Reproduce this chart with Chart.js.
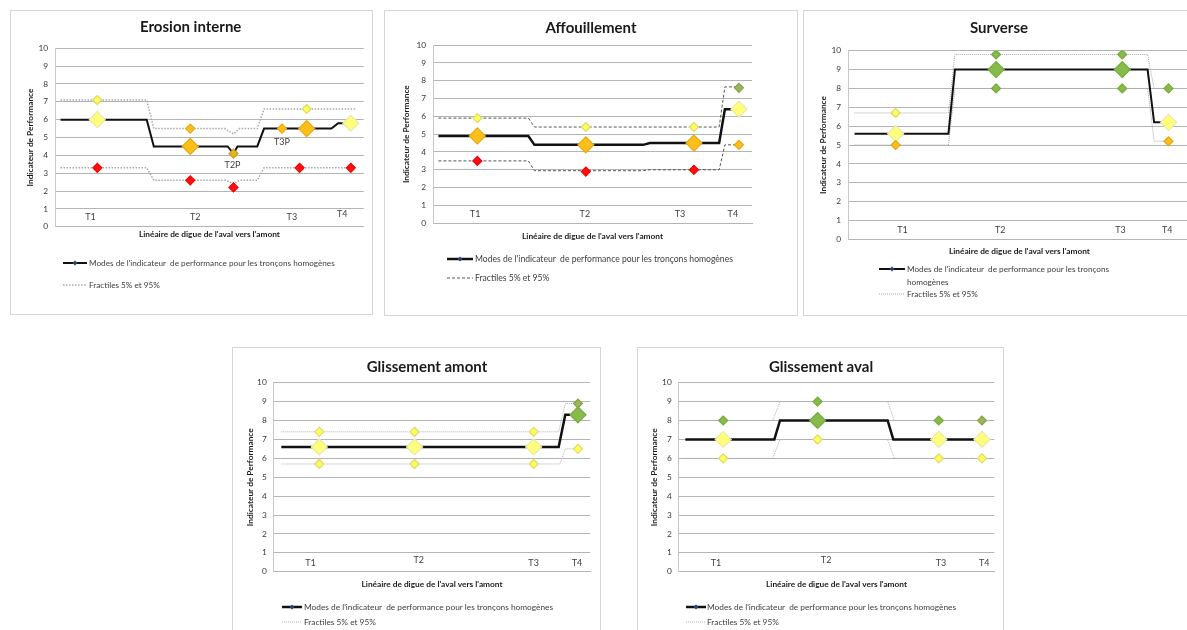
<!DOCTYPE html>
<html><head><meta charset="utf-8">
<script src="https://cdn.jsdelivr.net/npm/chart.js@4.4.1/dist/chart.umd.min.js"></script>
<style>
html,body{margin:0;padding:0;background:#fff;}
body{width:1187px;height:630px;overflow:hidden;position:relative;font-family:Lato,"Open Sans",sans-serif;}
.box{position:absolute;border:1.5px solid #d6d6d6;box-sizing:border-box;}
.chart{position:absolute;}
.lg{position:absolute;color:#404040;white-space:pre;line-height:12px;}
svg{position:absolute;overflow:visible;}
</style></head><body>
<script>
// ---------- DATA (position along the dike: 0-100, value: performance indicator 0-10) ----------
// Erosion interne
const EI_mode = [[1.8,6.0],[29.7,6.0],[32.0,4.5],[55.9,4.5],[57.8,4.1],[59.1,4.5],[65.5,4.5],[67.7,5.5],[89.5,5.5],[91.7,5.8],[96.8,5.8]];
const EI_q95  = [[1.8,7.1],[29.7,7.1],[32.0,5.5],[55.0,5.5],[57.8,5.2],[59.7,5.5],[65.5,5.5],[67.7,6.6],[97.4,6.6]];
const EI_q05  = [[1.8,3.3],[29.7,3.3],[32.0,2.6],[55.3,2.6],[57.8,2.4],[59.7,2.6],[65.5,2.6],[67.7,3.3],[97.4,3.3]];
const EI_points = [[13.7,6.0,'M','pale'],[13.7,7.1,'f','yellow'],[13.7,3.3,'f','red'],
  [43.8,4.5,'M','orange'],[43.8,5.5,'f','orange'],[43.8,2.6,'f','red'],
  [57.8,4.1,'m','gold'],[57.8,2.2,'f','red'],[73.5,5.5,'m','orange'],
  [81.5,5.5,'M','orange'],[81.5,6.6,'f','yellow'],[79.2,3.3,'f','red'],
  [95.8,5.8,'M','pale'],[95.8,3.3,'f','red']];
const EI_labels = [['T1',11.5,0.55],['T2',45.4,0.55],['T3',76.7,0.55],['T4',93.0,0.7],['T2P',57.5,3.45],['T3P',73.5,4.72]];

// Affouillement
const AF_mode = [[1.7,4.9],[29.9,4.9],[31.8,4.4],[65.9,4.4],[68.0,4.5],[89.7,4.5],[91.5,6.4],[95.7,6.4]];
const AF_q95  = [[1.7,5.9],[29.9,5.9],[31.8,5.4],[89.7,5.4],[91.5,7.65],[95.7,7.65]];
const AF_q05  = [[1.7,3.5],[29.9,3.5],[31.8,2.95],[65.9,2.95],[68.0,3.0],[89.7,3.0],[91.5,4.4],[95.7,4.4]];
const AF_points = [[13.9,4.9,'M','orange'],[13.9,5.9,'f','yellow'],[13.9,3.5,'f','red'],
  [47.9,4.4,'M','orange'],[47.9,5.4,'f','yellow'],[47.9,2.9,'f','red'],
  [81.8,4.5,'M','orange'],[81.8,5.4,'f','yellow'],[81.8,3.0,'f','red'],
  [95.9,6.4,'M','pale'],[95.9,7.6,'f','olive'],[95.9,4.4,'f','orange']];
const AF_labels = [['T1',13.2,0.52],['T2',47.6,0.52],['T3',77.4,0.52],['T4',94.0,0.52]];

// Surverse
const SV_mode = [[1.9,5.6],[29.3,5.6],[31.2,9.0],[87.4,9.0],[89.3,6.2],[91.6,6.2]];
const SV_q95  = [[1.9,6.7],[29.3,6.7],[31.2,9.8],[87.4,9.8],[89.3,8.0],[94.0,8.0]];
const SV_q05  = [[1.9,5.0],[29.3,5.0],[31.2,8.0],[87.4,8.0],[89.3,5.2],[92.5,5.2]];
const SV_points = [[13.9,5.6,'M','pale'],[13.9,6.7,'f','yellow'],[13.9,5.0,'f','orange'],
  [43.2,9.0,'M','green'],[43.2,9.8,'f','green'],[43.2,8.0,'f','green'],
  [80.0,9.0,'M','green'],[80.0,9.8,'f','green'],[80.0,8.0,'f','green'],
  [93.5,6.2,'M','pale'],[93.5,8.0,'f','green'],[93.5,5.2,'f','orange']];
const SV_labels = [['T1',15.9,0.5],['T2',44.4,0.5],['T3',79.5,0.5],['T4',93.1,0.5]];

// Glissement amont
const GA_mode = [[2.4,6.6],[90.0,6.6],[92.1,8.3],[93.7,8.3]];
const GA_q95  = [[2.4,7.4],[90.0,7.4],[92.1,8.9],[95.3,8.9]];
const GA_q05  = [[2.4,5.7],[90.4,5.7],[92.1,6.5],[95.3,6.5]];
const GA_points = [[14.4,6.6,'M','pale'],[14.4,7.4,'f','yellow'],[14.4,5.7,'f','yellow'],
  [44.5,6.6,'M','pale'],[44.5,7.4,'f','yellow'],[44.5,5.7,'f','yellow'],
  [82.1,6.6,'M','pale'],[82.1,7.4,'f','yellow'],[82.1,5.7,'f','yellow'],
  [96.1,8.3,'M','green'],[96.1,8.9,'f','olive'],[96.1,6.5,'f','yellow']];
const GA_labels = [['T1',11.6,0.44],['T2',45.8,0.62],['T3',82.1,0.44],['T4',95.8,0.46]];

// Glissement aval
const GV_mode = [[2.1,7],[30.3,7],[32.1,8],[66.2,8],[68.0,7],[93.7,7]];
const GV_q95  = [[2.1,8],[29.8,8],[32.1,9],[66.2,9],[68.3,8],[93.7,8]];
const GV_q05  = [[2.1,6],[29.8,6],[32.1,7],[66.2,7],[68.3,6],[93.7,6]];
const GV_points = [[14.1,7,'M','pale'],[14.1,8,'f','green'],[14.1,6,'f','yellow'],
  [44.0,8,'M','green'],[44.0,9,'f','green'],[44.0,7,'f','yellow'],
  [82.4,7,'M','pale'],[82.4,8,'f','green'],[82.4,6,'f','yellow'],
  [96.1,7,'M','pale'],[96.1,8,'f','olive'],[96.1,6,'f','yellow']];
const GV_labels = [['T1',11.8,0.44],['T2',46.7,0.62],['T3',83.1,0.44],['T4',96.8,0.44]];

const LEGEND_MODE = "Modes de l'indicateur  de performance pour les tronçons homogènes";
const LEGEND_FRAC = "Fractiles 5% et 95%";
const Y_TITLE = "Indicateur de Performance";
const X_TITLE = "Linéaire de digue de l'aval vers l'amont";

// ---------- STYLES ----------
const FILL = {pale:'#FFFF7A', yellow:'#FFFF55', orange:'#FFBF1A', gold:'#E8B424', red:'#FF1010', green:'#86BB4A', olive:'#9AB55A'};
const EDGE = {pale:'#E8E8B0', yellow:'#DADA70', orange:'#E6A810', gold:'#C89A20', red:'#F00000', green:'#78A840', olive:'#8AA24E'};
const FONT = 'Lato, "Open Sans", sans-serif';
Chart.defaults.font.family = FONT;

const panels = [
  {title:'Erosion interne', mode:EI_mode, q95:EI_q95, q05:EI_q05, pts:EI_points, labels:EI_labels,
   box:{x:10,y:10,W:363,H:305}, L:{plotLeft:45,plotRight:358,plotTop:38.3,plotBottom:216.7,titleCx:180.7,titleCy:17,yTitleCx:20.7,xTitleCy:224},
   frac:{color:'#a8a8a8',width:1.5,dash:[1.5,1.5]}, modeW:2,
   legend:{size:8.2,r1:253,r2:275,sx1:53,sx2:77,tx:79}},
  {title:'Affouillement', mode:AF_mode, q95:AF_q95, q05:AF_q05, pts:AF_points, labels:AF_labels,
   box:{x:384,y:10,W:414,H:306}, L:{plotLeft:49,plotRight:368,plotTop:35,plotBottom:213.3,titleCx:207,titleCy:18,yTitleCx:22.7,xTitleCy:226},
   frac:{color:'#555555',width:1,dash:[3,2]}, modeW:2.5,
   legend:{size:8.6,r1:249,r2:268,sx1:63,sx2:89,tx:91}},
  {title:'Surverse', mode:SV_mode, q95:SV_q95, q05:SV_q05, pts:SV_points, labels:SV_labels,
   box:{x:803,y:10,W:397,H:306}, L:{plotLeft:45,plotRight:392,plotTop:40.7,plotBottom:229.3,titleCx:196,titleCy:18,yTitleCx:20,xTitleCy:241.7},
   frac:{color:'#a8a8a8',width:1,dash:[1,1]}, modeW:2, wrap:true,
   legend:{size:8.2,r1:259.3,r2:284,sx1:76,sx2:102,tx:104}},
  {title:'Glissement amont', mode:GA_mode, q95:GA_q95, q05:GA_q05, pts:GA_points, labels:GA_labels,
   box:{x:232,y:347,W:369,H:290}, L:{plotLeft:41.7,plotRight:358.3,plotTop:35.7,plotBottom:224.7,titleCx:195,titleCy:19.7,yTitleCx:18.3,xTitleCy:237.3},
   frac:{color:'#b0b0b0',width:1,dash:[1,1]}, modeW:2.5,
   legend:{size:8.3,r1:259.7,r2:274.7,sx1:50,sx2:70,tx:72}},
  {title:'Glissement aval', mode:GV_mode, q95:GV_q95, q05:GV_q05, pts:GV_points, labels:GV_labels,
   box:{x:637,y:347,W:367,H:290}, L:{plotLeft:41.7,plotRight:357.3,plotTop:35.7,plotBottom:224.7,titleCx:184,titleCy:19.7,yTitleCx:17.3,xTitleCy:237.3},
   frac:{color:'#b0b0b0',width:1,dash:[1,1]}, modeW:2.5,
   legend:{size:8.3,r1:259.7,r2:274.7,sx1:49,sx2:69,tx:70}}
];

const tLabelPlugin = {
  id: 'tLabels',
  afterDatasetsDraw(chart, args, opts) {
    const {ctx, scales:{x, y}} = chart;
    ctx.save();
    ctx.font = '9px ' + FONT;
    ctx.fillStyle = '#404040';
    ctx.textAlign = 'center';
    ctx.textBaseline = 'middle';
    for (const [t, px, py] of opts.labels) ctx.fillText(t, x.getPixelForValue(px), y.getPixelForValue(py));
    ctx.restore();
  }
};

const toXY = arr => arr.map(([x, y]) => ({x, y}));

panels.forEach(p => {
  const b = p.box, L = p.L;
  const box = document.createElement('div');
  box.className = 'box';
  Object.assign(box.style, {left:b.x+'px', top:b.y+'px', width:b.W+'px', height:b.H+'px'});
  document.body.appendChild(box);

  const lh = 1.2, tS = 15, aS = 8.3;
  // layout: title is centred between padL and (canvas width - padR); a blank right axis fills any gap.
  const padL = Math.min(L.plotLeft - 25, 2 * L.titleCx - L.plotRight);
  const R = 2 * L.titleCx - padL;
  const w2 = Math.max(0, R - L.plotRight);
  const Wc = Math.max(b.W, R + 2);
  const padR = Wc - R;
  const yWidth = L.plotLeft - padL;
  const yTitlePad = L.yTitleCx - aS * lh / 2 - padL;
  const titlePT = L.titleCy - tS * lh / 2;
  const titlePB = L.plotTop - titlePT - tS * lh;
  const xH = L.xTitleCy - L.plotBottom + aS * lh / 2;
  const padB = b.H - L.plotBottom - xH;

  const wrap = document.createElement('div');
  wrap.className = 'chart';
  Object.assign(wrap.style, {left:b.x+'px', top:b.y+'px', width:Wc+'px', height:b.H+'px'});
  const cv = document.createElement('canvas');
  wrap.appendChild(cv);
  document.body.appendChild(wrap);

  const lineDs = (data, color, width, dash) => ({type:'scatter', data: toXY(data), showLine:true, borderColor:color,
     borderWidth:width, borderDash:dash, pointRadius:0, fill:false, tension:0});

  new Chart(cv, {
    type: 'scatter',
    data: { datasets: [
      {data: p.pts.map(([x, y, kind, cls]) => ({x, y, kind, cls})), pointStyle:'rectRot',
       pointRadius: c => (c.raw && c.raw.kind === 'M') ? 8 : 4.5,
       pointBackgroundColor: c => FILL[c.raw ? c.raw.cls : 'pale'],
       pointBorderColor: c => EDGE[c.raw ? c.raw.cls : 'pale'],
       pointBorderWidth: 1.2, showLine:false},
      lineDs(p.mode, '#111111', p.modeW, []),
      lineDs(p.q95, p.frac.color, p.frac.width, p.frac.dash),
      lineDs(p.q05, p.frac.color, p.frac.width, p.frac.dash)
    ]},
    options: {
      responsive: true, maintainAspectRatio: false, animation: false, events: [],
      layout: {padding: {left: padL, right: padR, top: 0, bottom: padB}},
      plugins: {
        legend: {display: false}, tooltip: {enabled: false},
        title: {display: true, text: p.title, color: '#1a1a1a', font: {size: tS, weight: 'bold', lineHeight: lh},
                padding: {top: titlePT, bottom: titlePB}},
        tLabels: {labels: p.labels}
      },
      scales: {
        x: {type:'linear', min:0, max:100, ticks:{display:false}, grid:{display:false},
            border:{display:true, color:'#b4b4b4'},
            title:{display:true, text:X_TITLE, color:'#1a1a1a', font:{size:aS, weight:'bold', lineHeight:lh}, padding:{top:0,bottom:0}},
            afterFit: s => { s.height = xH; }},
        y: {min:0, max:10, ticks:{stepSize:1, color:'#383838', font:{size:8.3}, padding:7},
            grid:{color:'#b4b4b4', drawTicks:false}, border:{display:true, color:'#c8c8c8'},
            title:{display:true, text:Y_TITLE, color:'#1a1a1a', font:{size:aS, weight:'bold', lineHeight:lh}, padding:{top:yTitlePad,bottom:0}},
            afterFit: s => { s.width = yWidth; }},
        yR: {type:'linear', axis:'y', position:'right', min:0, max:10, display:true,
            ticks:{display:false}, grid:{display:false, drawTicks:false}, border:{display:false},
            afterFit: s => { s.width = w2; }}
      }
    },
    plugins: [tLabelPlugin]
  });

  // legend (HTML)
  const g = p.legend;
  const svgNS = 'http://www.w3.org/2000/svg';
  const mk = (rowY, isMode) => {
    const s = document.createElementNS(svgNS, 'svg');
    s.setAttribute('width', g.sx2 - g.sx1); s.setAttribute('height', 8);
    s.style.left = (b.x + g.sx1) + 'px'; s.style.top = (b.y + rowY - 4) + 'px';
    const w = g.sx2 - g.sx1;
    if (isMode) {
      s.innerHTML = `<line x1="0" y1="4" x2="${w}" y2="4" stroke="#111" stroke-width="${p.modeW}"/>` +
        `<polygon points="${w/2},1.5 ${w/2+2.5},4 ${w/2},6.5 ${w/2-2.5},4" fill="#1F497D"/>`;
    } else {
      s.innerHTML = `<line x1="0" y1="4" x2="${w}" y2="4" stroke="${p.frac.color}" stroke-width="${p.frac.width}" stroke-dasharray="${p.frac.dash.join(' ')}"/>`;
    }
    document.body.appendChild(s);
  };
  const txt = (rowY, text) => {
    const d = document.createElement('div');
    d.className = 'lg';
    d.style.fontSize = g.size + 'px';
    d.style.left = (b.x + g.tx) + 'px';
    d.style.top = (b.y + rowY - 6) + 'px';
    d.textContent = text;
    document.body.appendChild(d);
  };
  mk(g.r1, true); mk(g.r2, false);
  if (p.wrap) {
    txt(g.r1, "Modes de l'indicateur  de performance pour les tronçons");
    txt(g.r1 + 12.4, "homogènes");
  } else {
    txt(g.r1, LEGEND_MODE);
  }
  txt(g.r2, LEGEND_FRAC);
});
</script>
</body></html>
